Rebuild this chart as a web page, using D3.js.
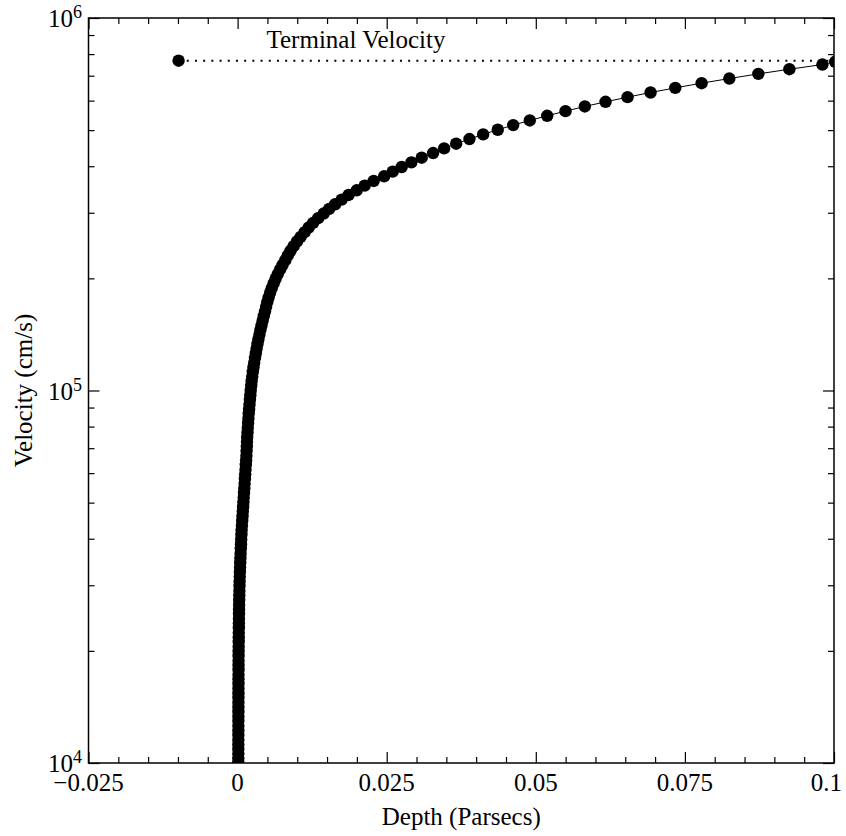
<!DOCTYPE html>
<html>
<head>
<meta charset="utf-8">
<script src="https://cdn.jsdelivr.net/npm/d3@7"></script>
<style>
  html, body { margin: 0; padding: 0; background: #fff; }
  svg { display: block; }
  text { font-family: "Liberation Serif", "DejaVu Serif", serif; fill: #000; }
</style>
</head>
<body>
<svg id="chart" width="846" height="836"></svg>
<script>
// Wind velocity profile: depth into the flow (parsecs) against velocity (cm/s)
const depthPc = [
  0.000117, 0.000119, 0.000121, 0.000122, 0.000124, 0.000126, 0.000128, 0.000129, 0.000131, 0.000133,
  0.000134, 0.000136, 0.000138, 0.000139, 0.000141, 0.000143, 0.000144, 0.000146, 0.000148, 0.000151,
  0.000154, 0.000158, 0.000161, 0.000164, 0.000168, 0.000176, 0.000185, 0.000193, 0.000201, 0.000210,
  0.000218, 0.000227, 0.000235, 0.000243, 0.000252, 0.000268, 0.000285, 0.000302, 0.000319, 0.000336,
  0.000361, 0.000386, 0.000411, 0.000436, 0.000470, 0.000503, 0.000537, 0.000570, 0.000604, 0.000638,
  0.000671, 0.000721, 0.000772, 0.000822, 0.000872, 0.000923, 0.000973, 0.001023, 0.001074, 0.001124,
  0.001175, 0.001225, 0.001275, 0.001326, 0.001376, 0.001426, 0.001477, 0.001510, 0.001544, 0.001577,
  0.001611, 0.001661, 0.001711, 0.001762, 0.001812, 0.001862, 0.001930, 0.001997, 0.002064, 0.002131,
  0.002198, 0.002282, 0.002349, 0.002450, 0.002550, 0.002668, 0.002785, 0.002919, 0.003054, 0.003188,
  0.003339, 0.003490, 0.003658, 0.003826, 0.004010, 0.004195, 0.004396, 0.004597, 0.004782, 0.004983,
  0.005201, 0.005453, 0.005738, 0.006040, 0.006376, 0.006745, 0.007131, 0.007550, 0.008003, 0.008423,
  0.008876, 0.009396, 0.009950, 0.010570, 0.011242, 0.011913, 0.012668, 0.013507, 0.014430, 0.015353,
  0.016359, 0.017450, 0.018624, 0.019967, 0.021309, 0.022819, 0.024564, 0.026007, 0.027517, 0.029144,
  0.030872, 0.032785, 0.034631, 0.036644, 0.038876, 0.041174, 0.043624, 0.046208, 0.048993, 0.051913,
  0.054983, 0.058221, 0.061695, 0.065386, 0.069245, 0.073389, 0.077802, 0.082450, 0.087315, 0.092517,
  0.098054, 0.100200
];

const velocityCms = [
  10000, 10292, 10593, 10902, 11220, 11548, 11885, 12232, 12589, 12957,
  13335, 13725, 14125, 14538, 14962, 15399, 15849, 16312, 16788, 17278,
  17783, 18302, 18836, 19387, 19953, 20535, 21135, 21752, 22387, 23041,
  23714, 24406, 25119, 25852, 26607, 27384, 28184, 29007, 29854, 30726,
  31623, 32546, 33497, 34475, 35481, 36517, 37584, 38681, 39811, 40973,
  42170, 43401, 44668, 45973, 47315, 48697, 50119, 51582, 53088, 54639,
  56234, 57876, 59566, 61306, 63096, 64938, 66834, 68786, 70795, 72862,
  74989, 77179, 79433, 81752, 84140, 86596, 89125, 91728, 94406, 97163,
  100000, 102920, 105930, 109020, 112200, 115480, 118850, 122320, 125890, 129570,
  133350, 137250, 141250, 145380, 149620, 153990, 158490, 163120, 167880, 172780,
  177830, 183020, 188360, 193870, 199530, 205350, 211350, 217520, 223870, 230410,
  237140, 244060, 251190, 258520, 266070, 273840, 281840, 290070, 298540, 307260,
  316230, 325460, 334970, 344750, 354810, 365170, 375840, 386810, 398110, 409730,
  421700, 434010, 446680, 459730, 473150, 486970, 501190, 515820, 530880, 546390,
  562340, 578760, 595660, 613060, 630960, 649380, 668340, 687860, 707950, 728620,
  749890, 763000
];

// Terminal velocity marker and its reference level
const terminalDepth = -0.0099;
const terminalVelocity = 768000;
const terminalLabel = "Terminal Velocity";

// Axis ticks and labels
const xMajorTicks = [-0.025, 0, 0.025, 0.05, 0.075, 0.1];
const xTickLabels = ["\u22120.025", "0", "0.025", "0.05", "0.075", "0.1"];
const xMinorStep = 0.005;
const yMajorTicks = [1e4, 1e5, 1e6];
const yTickExponents = ["4", "5", "6"];
const xTitle = "Depth (Parsecs)";
const yTitle = "Velocity (cm/s)";

const W = 846, H = 836;
const plot = { left: 88.5, right: 834, top: 18, bottom: 763 };

const svg = d3.select("#chart");

const x = d3.scaleLinear().domain([-0.025, 0.1]).range([plot.left, plot.right]);
const y = d3.scaleLog().domain([1e4, 1e6]).range([plot.bottom, plot.top]);

// minor tick values
const xMinor = d3.range(-0.025, 0.1 + 1e-9, xMinorStep)
  .map(v => +v.toFixed(4))
  .filter(v => !xMajorTicks.some(m => Math.abs(m - v) < 1e-9));
const yMinor = [];
[1e4, 1e5].forEach(dec => { for (let k = 2; k <= 9; k++) yMinor.push(k * dec); });

const majorLen = 11, minorLen = 6;

// clip for data
svg.append("defs").append("clipPath").attr("id", "plotClip")
  .append("rect")
  .attr("x", plot.left).attr("y", plot.top)
  .attr("width", plot.right - plot.left).attr("height", plot.bottom - plot.top);

// ticks, drawn inward on all four sides with d3 axes
function tickAxis(gen, scale, values, size, transform) {
  const g = svg.append("g").attr("transform", transform)
    .call(gen(scale).tickValues(values).tickSize(size).tickFormat(""));
  g.select(".domain").remove();
  g.selectAll("line").attr("stroke", "#000").attr("stroke-width", 1.2);
  return g;
}
tickAxis(d3.axisBottom, x, xMajorTicks, -majorLen, `translate(0,${plot.bottom})`);
tickAxis(d3.axisBottom, x, xMinor, -minorLen, `translate(0,${plot.bottom})`);
tickAxis(d3.axisTop, x, xMajorTicks, -majorLen, `translate(0,${plot.top})`);
tickAxis(d3.axisTop, x, xMinor, -minorLen, `translate(0,${plot.top})`);
tickAxis(d3.axisLeft, y, yMajorTicks, -majorLen, `translate(${plot.left},0)`);
tickAxis(d3.axisLeft, y, yMinor, -minorLen, `translate(${plot.left},0)`);
tickAxis(d3.axisRight, y, yMajorTicks, -majorLen, `translate(${plot.right},0)`);
tickAxis(d3.axisRight, y, yMinor, -minorLen, `translate(${plot.right},0)`);

// data
const pts = depthPc.map((d, i) => ({ d, v: velocityCms[i] }));
const dataG = svg.append("g").attr("clip-path", "url(#plotClip)");

// terminal velocity level
dataG.append("line")
  .attr("x1", x(terminalDepth)).attr("x2", x(0.1))
  .attr("y1", y(terminalVelocity)).attr("y2", y(terminalVelocity))
  .attr("stroke", "#000").attr("stroke-width", 2)
  .attr("stroke-dasharray", "2 6.2");

dataG.append("path")
  .datum(pts)
  .attr("fill", "none").attr("stroke", "#000").attr("stroke-width", 1)
  .attr("d", d3.line().x(p => x(p.d)).y(p => y(p.v)));

dataG.selectAll("circle.pt")
  .data(pts).enter().append("circle")
  .attr("class", "pt")
  .attr("cx", p => x(p.d)).attr("cy", p => y(p.v))
  .attr("r", 6.2).attr("fill", "#000");

dataG.append("circle")
  .attr("cx", x(terminalDepth)).attr("cy", y(terminalVelocity))
  .attr("r", 6.2).attr("fill", "#000");

svg.append("text")
  .attr("x", 266.5).attr("y", 48)
  .attr("font-size", 25)
  .text(terminalLabel);

// frame
svg.append("rect")
  .attr("x", plot.left).attr("y", plot.top)
  .attr("width", plot.right - plot.left).attr("height", plot.bottom - plot.top)
  .attr("fill", "none").attr("stroke", "#000").attr("stroke-width", 1.5);

// x tick labels
svg.append("g").selectAll("text")
  .data(xMajorTicks).enter().append("text")
  .attr("font-size", 25)
  .attr("text-anchor", "middle")
  .attr("y", plot.bottom + 28)
  .text((d, i) => xTickLabels[i])
  .attr("x", function(d) {
    const w = this.getComputedTextLength();
    return Math.min(x(d), W - 4 - w / 2);
  });

// y tick labels: 10 with superscript exponent
const yl = svg.append("g").selectAll("text")
  .data(yMajorTicks).enter().append("text")
  .attr("font-size", 25)
  .attr("text-anchor", "end")
  .attr("x", 82)
  .attr("y", d => y(d) + 9);
yl.append("tspan").text("10");
yl.append("tspan").attr("font-size", 18).attr("dy", -9)
  .text((d, i) => yTickExponents[i]);

// axis titles
svg.append("text")
  .attr("x", (plot.left + plot.right) / 2).attr("y", 825)
  .attr("text-anchor", "middle").attr("font-size", 25)
  .text(xTitle);

svg.append("text")
  .attr("transform", `translate(32,${(plot.top + plot.bottom) / 2}) rotate(-90)`)
  .attr("text-anchor", "middle").attr("font-size", 25)
  .text(yTitle);
</script>
</body>
</html>
